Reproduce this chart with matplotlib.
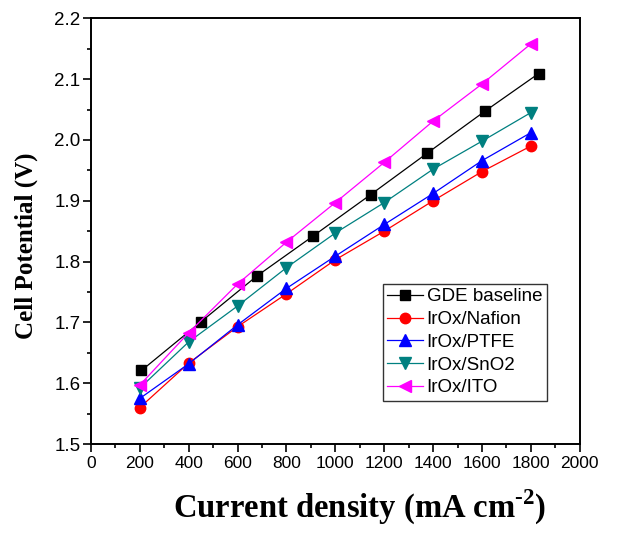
import matplotlib
matplotlib.use("Agg")
import matplotlib.pyplot as plt
from matplotlib.ticker import MultipleLocator

plt.rcParams['mathtext.fontset'] = 'custom'
plt.rcParams['mathtext.rm'] = 'Liberation Serif:bold'
plt.rcParams['mathtext.bf'] = 'Liberation Serif:bold'

# current density (mA cm-2) and cell potential (V) for each electrode
x_gde = [207, 450, 678, 909, 1144, 1375, 1611, 1831]
y_gde = [1.621, 1.701, 1.776, 1.842, 1.910, 1.978, 2.047, 2.109]

x_ir = [200, 400, 600, 800, 1000, 1200, 1400, 1600, 1800]
y_nafion = [1.560, 1.633, 1.693, 1.747, 1.803, 1.850, 1.900, 1.948, 1.990]
y_ptfe = [1.575, 1.632, 1.696, 1.756, 1.809, 1.861, 1.912, 1.966, 2.012]
y_sno2 = [1.592, 1.668, 1.727, 1.790, 1.847, 1.897, 1.952, 1.998, 2.045]
y_ito = [1.597, 1.683, 1.763, 1.832, 1.897, 1.963, 2.031, 2.092, 2.158]

fig = plt.figure(figsize=(6.4, 5.37), dpi=100)
ax = fig.add_axes([0.142, 0.173, 0.764, 0.793])

ax.plot(x_gde, y_gde, color='black', marker='s', ms=6.8, lw=0.9, label='GDE baseline')
ax.plot(x_ir, y_nafion, color='red', marker='o', ms=7.5, lw=0.9, label='IrOx/Nafion')
ax.plot(x_ir, y_ptfe, color='blue', marker='^', ms=8, lw=0.9, label='IrOx/PTFE')
ax.plot(x_ir, y_sno2, color='#008080', marker='v', ms=8, lw=0.9, label='IrOx/SnO2')
ax.plot(x_ir, y_ito, color='magenta', marker='<', ms=8, lw=0.9, label='IrOx/ITO')

ax.set_xlim(0, 2000)
ax.set_ylim(1.5, 2.2)
ax.xaxis.set_major_locator(MultipleLocator(200))
ax.xaxis.set_minor_locator(MultipleLocator(100))
ax.yaxis.set_major_locator(MultipleLocator(0.1))
ax.yaxis.set_minor_locator(MultipleLocator(0.05))
ax.tick_params(which='both', direction='out', top=False, right=False, width=1.2)
ax.tick_params(which='major', length=5.5)
ax.tick_params(which='minor', length=2.8)
ax.tick_params(axis='x', labelsize=12.5, pad=3)
ax.tick_params(axis='y', labelsize=13.5, pad=2)
for lab in ax.get_xticklabels() + ax.get_yticklabels():
    lab.set_family('Liberation Sans')
for sp in ax.spines.values():
    sp.set_linewidth(1.4)

ax.set_xlabel('Current density (mA cm$^{\\text{-}2}$)', family='Liberation Serif',
              fontweight='bold', fontsize=23.5)
ax.xaxis.set_label_coords(0.55, -0.103)
ax.set_ylabel('Cell Potential (V)', family='Liberation Serif',
              fontweight='bold', fontsize=18)
ax.yaxis.set_label_coords(-0.108, 0.465)

leg = ax.legend(loc='lower right', bbox_to_anchor=(0.9325, 0.101), fancybox=False,
                edgecolor='black', prop={'family': 'Liberation Sans', 'size': 13.5},
                handlelength=1.9, handletextpad=0.2, borderpad=0.25,
                labelspacing=0.3, borderaxespad=0)
leg.get_frame().set_linewidth(1.0)

plt.savefig('out.png')
